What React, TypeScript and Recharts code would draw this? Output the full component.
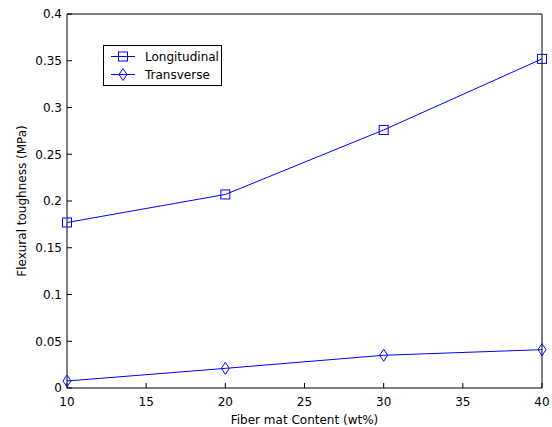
import React from 'react';
import { LineChart, Line, XAxis, YAxis } from 'recharts';

const fiberContent = [10, 20, 30, 40];
const longitudinal = [0.177, 0.207, 0.276, 0.352];
const transverse = [0.0075, 0.021, 0.035, 0.041];
const xTicks = [10, 15, 20, 25, 30, 35, 40];
const yTicks = [0, 0.05, 0.1, 0.15, 0.2, 0.25, 0.3, 0.35, 0.4];

const data = fiberContent.map((x, i) => ({ x, longitudinal: longitudinal[i], transverse: transverse[i] }));

const BLUE = '#0000ff';
const FONT = '"DejaVu Sans", Verdana, sans-serif';

const SquareDot = (props: any) => {
  const { cx, cy } = props;
  if (cx == null || cy == null) return null;
  return <rect x={cx - 4.5} y={cy - 4.5} width={9} height={9} fill="none" stroke={BLUE} strokeWidth={1} />;
};

const DiamondDot = (props: any) => {
  const { cx, cy } = props;
  if (cx == null || cy == null) return null;
  return (
    <polygon
      points={`${cx},${cy - 6} ${cx + 4},${cy} ${cx},${cy + 6} ${cx - 4},${cy}`}
      fill="none"
      stroke={BLUE}
      strokeWidth={1}
    />
  );
};

const LegendBox = () => (
  <svg width={120} height={42} style={{ display: 'block' }}>
    <rect x={0.5} y={0.5} width={118} height={40} fill="#fff" stroke="#000" strokeWidth={1} />
    <line x1={8} x2={32} y1={11.5} y2={11.5} stroke={BLUE} />
    <rect x={15.5} y={7} width={9} height={9} fill="none" stroke={BLUE} />
    <text x={42} y={16} fontSize={12} fontFamily={FONT} fill="#000">Longitudinal</text>
    <line x1={8} x2={32} y1={29.5} y2={29.5} stroke={BLUE} />
    <polygon points="20,23.5 24,29.5 20,35.5 16,29.5" fill="none" stroke={BLUE} />
    <text x={42} y={34} fontSize={12} fontFamily={FONT} fill="#000">Transverse</text>
  </svg>
);

export default function App() {
  return (
    <div style={{ position: 'absolute', left: 0, top: 0, width: 552, height: 427, background: '#fff' }}>
      <LineChart width={552} height={427} data={data} margin={{ top: 13, right: 9, bottom: 0, left: 0 }}>
        <XAxis
          dataKey="x"
          type="number"
          domain={[10, 40]}
          ticks={xTicks}
          height={39}
          tickSize={-5}
          tickMargin={14}
          stroke="#000"
          tick={{ fill: '#000', fontSize: 12, fontFamily: FONT }}
          label={{ value: 'Fiber mat Content (wt%)', position: 'insideBottom', offset: 3, fill: '#000', fontSize: 12, fontFamily: FONT }}
        />
        <XAxis
          xAxisId="top"
          dataKey="x"
          type="number"
          orientation="top"
          domain={[10, 40]}
          ticks={xTicks}
          height={1}
          tickSize={-5}
          stroke="#000"
          tick={false}
        />
        <YAxis
          type="number"
          domain={[0, 0.4]}
          ticks={yTicks}
          width={67}
          tickSize={-5}
          tickMargin={10}
          stroke="#000"
          tick={{ fill: '#000', fontSize: 12, fontFamily: FONT }}
          label={{ value: 'Flexural toughness (MPa)', angle: -90, position: 'center', dx: -12, fill: '#000', fontSize: 12, fontFamily: FONT }}
        />
        <YAxis
          yAxisId="right"
          type="number"
          orientation="right"
          domain={[0, 0.4]}
          ticks={yTicks}
          width={1}
          tickSize={-5}
          stroke="#000"
          tick={false}
        />
        <Line
          dataKey="longitudinal"
          xAxisId="top"
          yAxisId="right"
          stroke="none"
          dot={false}
          activeDot={false}
          legendType="none"
          isAnimationActive={false}
        />
        <Line
          dataKey="longitudinal"
          name="Longitudinal"
          stroke={BLUE}
          strokeWidth={1}
          dot={<SquareDot />}
          activeDot={false}
          isAnimationActive={false}
        />
        <Line
          dataKey="transverse"
          name="Transverse"
          stroke={BLUE}
          strokeWidth={1}
          dot={<DiamondDot />}
          activeDot={false}
          isAnimationActive={false}
        />
      </LineChart>
      <div style={{ position: 'absolute', left: 103, top: 45 }}>
        <LegendBox />
      </div>
    </div>
  );
}
